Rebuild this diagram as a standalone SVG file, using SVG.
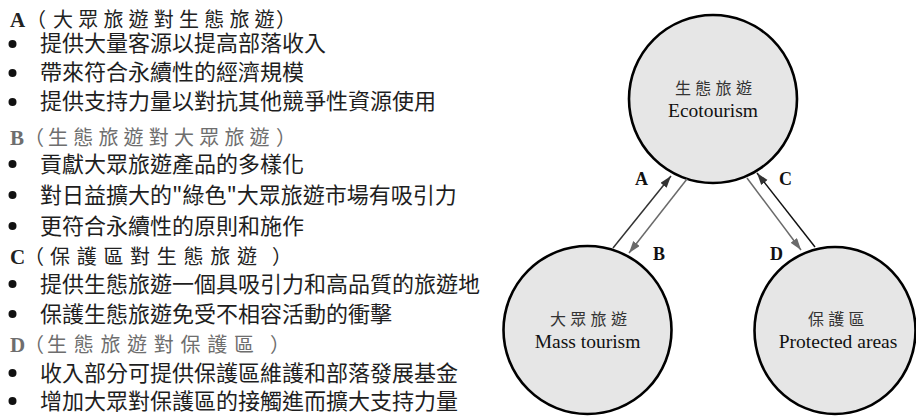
<svg xmlns="http://www.w3.org/2000/svg" width="916" height="420" viewBox="0 0 916 420">
<defs>
<style>
.bul{font-family:"Noto Sans CJK TC","Noto Sans CJK SC",sans-serif;font-size:22px;fill:#1e1e1e}
.dot{fill:#111}
.hd{font-family:"Noto Sans CJK TC","Noto Sans CJK SC",sans-serif;font-size:20px}
.hl{font-family:"Liberation Serif",serif;font-weight:bold;font-size:21px}
.dark{fill:#222}
.grey{fill:#6e6e6e}
.node{fill:#e6e6e6;stroke:#000;stroke-width:2.6}
.ncjk{font-family:"Noto Sans CJK TC","Noto Sans CJK SC",sans-serif;font-size:16px;letter-spacing:4.3px;fill:#333}
.nen{font-family:"Liberation Serif",serif;font-size:19.5px;fill:#111;text-anchor:middle}
.lab{font-family:"Liberation Serif",serif;font-weight:bold;font-size:18px;fill:#111}
.ad{stroke:#333;stroke-width:1.5;fill:none}
.ag{stroke:#6a6a6a;stroke-width:1.5;fill:none}
</style>
<marker id="mDark" markerUnits="userSpaceOnUse" markerWidth="13" markerHeight="9" refX="12" refY="4" orient="auto"><path d="M0,0 L12,4 L0,8 z" fill="#333"/></marker>
<marker id="mGrey" markerUnits="userSpaceOnUse" markerWidth="13" markerHeight="9" refX="12" refY="4" orient="auto"><path d="M0,0 L12,4 L0,8 z" fill="#6a6a6a"/></marker>
</defs>
<rect width="916" height="420" fill="#fff"/>
<g id="list">
<text class="hl dark" x="10" y="27">A</text>
<text class="hd dark" x="26 53 78.2 103.4 128.6 153.8 179 204.2 229.4 254.6 276" y="27">（大眾旅遊對生態旅遊）</text>
<circle class="dot" cx="12.5" cy="44" r="4"/><text class="bul" x="40" y="51">提供大量客源以提高部落收入</text>
<circle class="dot" cx="12.5" cy="73" r="4"/><text class="bul" x="40" y="80">帶來符合永續性的經濟規模</text>
<circle class="dot" cx="12.5" cy="102" r="4"/><text class="bul" x="40" y="109">提供支持力量以對抗其他競爭性資源使用</text>
<text class="hl grey" x="10" y="145">B</text>
<text class="hd grey" x="24 48 73.2 98.4 123.6 148.8 174 199.2 224.4 249.6 276" y="145">（生態旅遊對大眾旅遊）</text>
<circle class="dot" cx="12.5" cy="164" r="4"/><text class="bul" x="40" y="172">貢獻大眾旅遊產品的多樣化</text>
<circle class="dot" cx="12.5" cy="195" r="4"/><text class="bul" x="40" y="203">對日益擴大的"綠色"大眾旅遊市場有吸引力</text>
<circle class="dot" cx="12.5" cy="226" r="4"/><text class="bul" x="40" y="234">更符合永續性的原則和施作</text>
<text class="hl dark" x="10" y="264">C</text>
<text class="hd dark" x="24 50 76.7 103.4 130.1 156.8 183.5 210.2 236.9 272" y="264">（保護區對生態旅遊）</text>
<circle class="dot" cx="12.5" cy="284" r="4"/><text class="bul" x="40" y="292">提供生態旅遊一個具吸引力和高品質的旅遊地</text>
<circle class="dot" cx="12.5" cy="314" r="4"/><text class="bul" x="40" y="322">保護生態旅遊免受不相容活動的衝擊</text>
<text class="hl grey" x="10" y="352">D</text>
<text class="hd grey" x="24 47 73.7 100.4 127.1 153.8 180.5 207.2 233.9 270" y="352">（生態旅遊對保護區）</text>
<circle class="dot" cx="12.5" cy="373" r="4"/><text class="bul" x="40" y="381">收入部分可提供保護區維護和部落發展基金</text>
<circle class="dot" cx="12.5" cy="401" r="4"/><text class="bul" x="40" y="409">增加大眾對保護區的接觸進而擴大支持力量</text>
</g>
<g id="ecotourism">
<circle class="node" cx="713" cy="99" r="84"/>
<text class="ncjk" x="675" y="94">生態旅遊</text>
<text class="nen" x="713" y="117">Ecotourism</text>
</g>
<g id="mass-tourism">
<circle class="node" cx="587.5" cy="330" r="84"/>
<text class="ncjk" x="550" y="325">大眾旅遊</text>
<text class="nen" x="587.5" y="348">Mass tourism</text>
</g>
<g id="protected-areas">
<ellipse class="node" cx="835" cy="330.5" rx="80.5" ry="83.5"/>
<text class="ncjk" x="808" y="325">保護區</text>
<text class="nen" x="838" y="348">Protected areas</text>
</g>
<g id="connectors">
<line class="ad" x1="613" y1="248" x2="671" y2="176" marker-end="url(#mDark)"/>
<line class="ag" x1="687" y1="179" x2="629" y2="253" marker-end="url(#mGrey)"/>
<line class="ad" x1="815" y1="247" x2="757" y2="173" marker-end="url(#mDark)" style="stroke:#111"/>
<line class="ag" x1="747" y1="178" x2="801" y2="250" marker-end="url(#mGrey)"/>
<text class="lab" x="635" y="185">A</text>
<text class="lab" x="653" y="260">B</text>
<text class="lab" x="779" y="185">C</text>
<text class="lab" x="770" y="260">D</text>
</g>
</svg>
